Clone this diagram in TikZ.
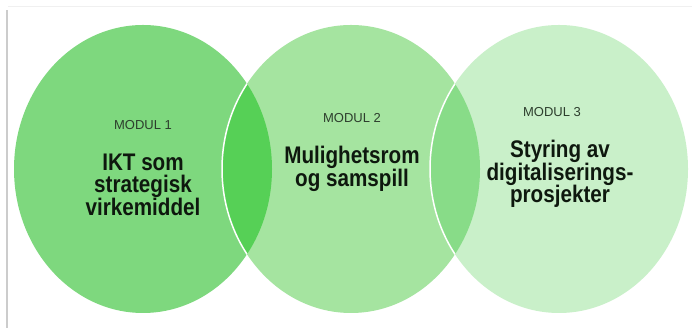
\documentclass[tikz,border=0pt]{standalone}
\usepackage{fontspec}
\setmainfont{Liberation Sans}
\newfontfamily\narrowfont[FakeStretch=0.86]{Liberation Sans}
\usetikzlibrary{positioning}

\definecolor{lobeone}{RGB}{126,216,126}
\definecolor{lobetwo}{RGB}{165,228,160}
\definecolor{lobethree}{RGB}{201,240,201}
\definecolor{lensone}{RGB}{86,208,86}
\definecolor{lenstwo}{RGB}{136,220,136}
\definecolor{modtext}{RGB}{45,62,45}
\definecolor{titletext}{RGB}{14,24,14}

\begin{document}
\begin{tikzpicture}[x=1pt,y=1pt,
    lobe/.style={x radius=129, y radius=144},
    modul/.style={font=\fontsize{13}{13}\selectfont, text=modtext, inner sep=0, anchor=base},
    titel/.style={font=\narrowfont\bfseries\fontsize{24}{22.5}\selectfont, text=titletext, align=center, inner sep=0}]
    \useasboundingbox (0,0) rectangle (692,328);
    \fill[white] (0,0) rectangle (692,328);

    % Draw the frame
    \draw[black!20, line width=1.5pt] (7,0) -- (7,318);
    \draw[black!6, line width=1pt] (8,321) -- (692,321);

    % Draw the three lobes
    \fill[lobeone] (143,159) ellipse [lobe];
    \fill[lobetwo] (351,159) ellipse [lobe];
    \fill[lobethree] (559,159) ellipse [lobe];

    % Draw the overlaps
    \begin{scope}
        \clip (143,159) ellipse [lobe];
        \fill[lensone] (351,159) ellipse [lobe];
        \draw[white, line width=1.5pt] (351,159) ellipse [lobe];
    \end{scope}
    \begin{scope}
        \clip (351,159) ellipse [lobe];
        \fill[lenstwo] (559,159) ellipse [lobe];
        \draw[white, line width=1.5pt] (559,159) ellipse [lobe];
    \end{scope}

    % Module labels
    \node[modul] (m1) at (143,198) {MODUL 1};
    \node[modul] (m2) at (352,205) {MODUL 2};
    \node[modul] (m3) at (552,211) {MODUL 3};

    % Module titles
    \node[titel, below=23pt of m1] (t1) {IKT som\\strategisk\\virkemiddel};
    \node[titel, below=23pt of m2] (t2) {Mulighetsrom\\og samspill};
    \node[titel, below=23pt of m3, xshift=8pt] (t3) {Styring av\\digitaliserings-\\prosjekter};
\end{tikzpicture}
\end{document}
